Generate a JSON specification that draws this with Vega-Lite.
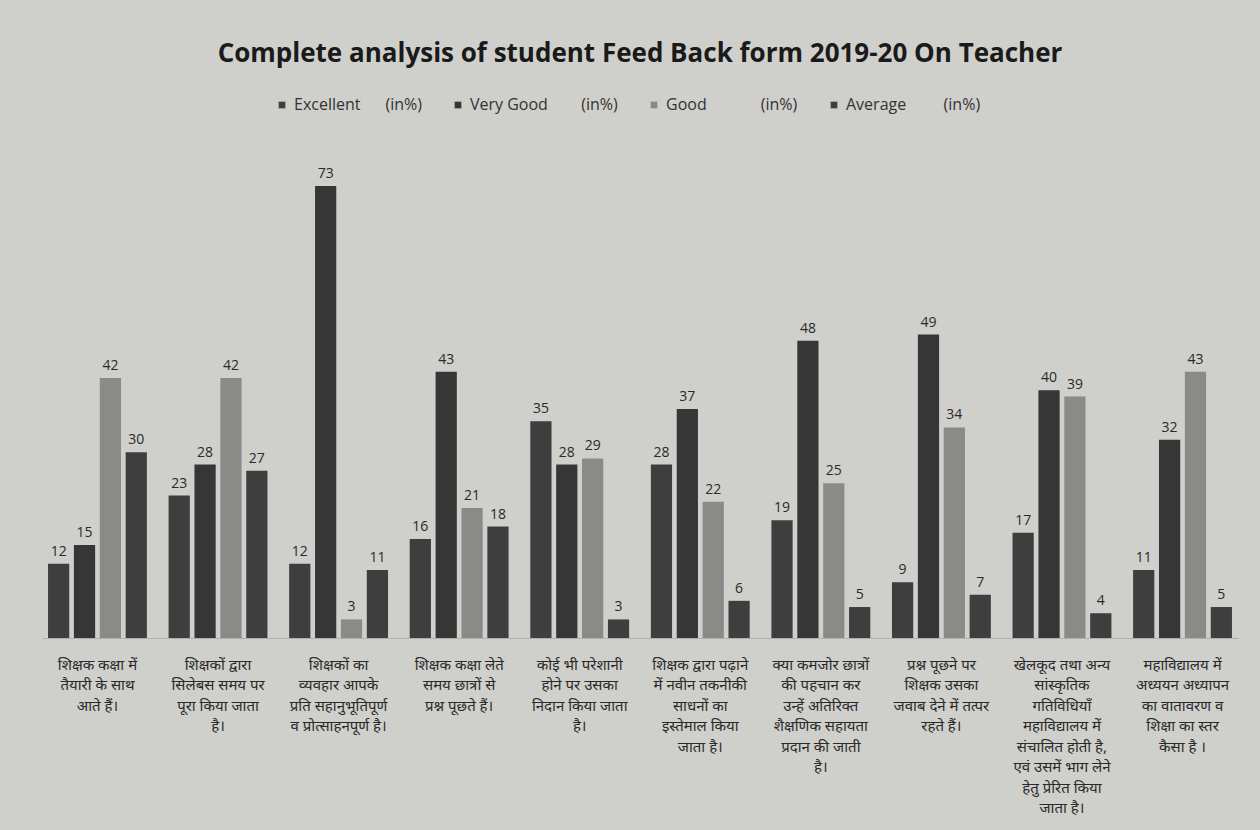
{
  "$schema": "https://vega.github.io/schema/vega-lite/v6.json",
  "width": 1260,
  "height": 830,
  "autosize": {"type": "fit", "contains": "padding"},
  "padding": {"left": 42, "right": 22, "top": 41, "bottom": 14},
  "background": "#cfcfcb",
  "title": {
    "text": "Complete analysis of student Feed Back form 2019-20 On Teacher",
    "font": "Open Sans",
    "fontSize": 26,
    "fontWeight": "bold",
    "color": "#1a1a1a",
    "anchor": "middle",
    "offset": 88
  },
  "config": {
    "view": {"stroke": null},
    "font": "Noto Sans",
    "legend": {"orient": "none", "legendX": 232, "legendY": -58, "direction": "horizontal", "title": null, "labelFontSize": 16, "labelColor": "#333", "symbolType": "square", "symbolSize": 45, "columnPadding": 28, "labelLimit": 300, "labelFont": "Open Sans"}
  },
  "data": {
    "values": [
      {"q": 1, "o": 1, "v": 12}, {"q": 1, "o": 2, "v": 15}, {"q": 1, "o": 3, "v": 42}, {"q": 1, "o": 4, "v": 30},
      {"q": 2, "o": 1, "v": 23}, {"q": 2, "o": 2, "v": 28}, {"q": 2, "o": 3, "v": 42}, {"q": 2, "o": 4, "v": 27},
      {"q": 3, "o": 1, "v": 12}, {"q": 3, "o": 2, "v": 73}, {"q": 3, "o": 3, "v": 3}, {"q": 3, "o": 4, "v": 11},
      {"q": 4, "o": 1, "v": 16}, {"q": 4, "o": 2, "v": 43}, {"q": 4, "o": 3, "v": 21}, {"q": 4, "o": 4, "v": 18},
      {"q": 5, "o": 1, "v": 35}, {"q": 5, "o": 2, "v": 28}, {"q": 5, "o": 3, "v": 29}, {"q": 5, "o": 4, "v": 3},
      {"q": 6, "o": 1, "v": 28}, {"q": 6, "o": 2, "v": 37}, {"q": 6, "o": 3, "v": 22}, {"q": 6, "o": 4, "v": 6},
      {"q": 7, "o": 1, "v": 19}, {"q": 7, "o": 2, "v": 48}, {"q": 7, "o": 3, "v": 25}, {"q": 7, "o": 4, "v": 5},
      {"q": 8, "o": 1, "v": 9}, {"q": 8, "o": 2, "v": 49}, {"q": 8, "o": 3, "v": 34}, {"q": 8, "o": 4, "v": 7},
      {"q": 9, "o": 1, "v": 17}, {"q": 9, "o": 2, "v": 40}, {"q": 9, "o": 3, "v": 39}, {"q": 9, "o": 4, "v": 4},
      {"q": 10, "o": 1, "v": 11}, {"q": 10, "o": 2, "v": 32}, {"q": 10, "o": 3, "v": 43}, {"q": 10, "o": 4, "v": 5}
    ]
  },
  "encoding": {
    "x": {
      "field": "q",
      "type": "ordinal",
      "scale": {"paddingInner": 0.18, "paddingOuter": 0.05},
      "axis": {
        "title": null,
        "labelAngle": 0,
        "ticks": false,
        "domainColor": "#b0b0ac",
        "labelFontSize": 15,
        "labelColor": "#2a2a2a",
        "labelLineHeight": 20.5,
        "labelPadding": 19,
        "labelLimit": 140,
        "labelOverlap": false,
        "labelBound": false,
        "labelExpr": "datum.value == 1 ? ['शिक्षक कक्षा में', 'तैयारी के साथ', 'आते हैं।'] : datum.value == 2 ? ['शिक्षकों द्वारा', 'सिलेबस समय पर', 'पूरा किया जाता', 'है।'] : datum.value == 3 ? ['शिक्षकों का', 'व्यवहार आपके', 'प्रति सहानुभूतिपूर्ण', 'व प्रोत्साहनपूर्ण है।'] : datum.value == 4 ? ['शिक्षक कक्षा लेते', 'समय छात्रों से', 'प्रश्न पूछते हैं।'] : datum.value == 5 ? ['कोई भी परेशानी', 'होने पर उसका', 'निदान किया जाता', 'है।'] : datum.value == 6 ? ['शिक्षक द्वारा पढ़ाने', 'में नवीन तकनीकी', 'साधनों का', 'इस्तेमाल किया', 'जाता है।'] : datum.value == 7 ? ['क्या कमजोर छात्रों', 'की पहचान कर', 'उन्हें अतिरिक्त', 'शैक्षणिक सहायता', 'प्रदान की जाती', 'है।'] : datum.value == 8 ? ['प्रश्न पूछने पर', 'शिक्षक उसका', 'जवाब देने में तत्पर', 'रहते हैं।'] : datum.value == 9 ? ['खेलकूद तथा अन्य', 'सांस्कृतिक', 'गतिविधियाँ', 'महाविद्यालय में', 'संचालित होती है,', 'एवं उसमें भाग लेने', 'हेतु प्रेरित किया', 'जाता है।'] : ['महाविद्यालय में', 'अध्ययन अध्यापन', 'का वातावरण व', 'शिक्षा का स्तर', 'कैसा है ।']"
      }
    },
    "xOffset": {"field": "o", "type": "ordinal", "scale": {"paddingInner": 0.18}},
    "y": {"field": "v", "type": "quantitative", "scale": {"domain": [0, 78], "nice": false}, "axis": null}
  },
  "layer": [
    {
      "mark": {"type": "bar"},
      "encoding": {
        "color": {
          "field": "o",
          "type": "nominal",
          "scale": {"domain": [1, 2, 3, 4], "range": ["#3e3e3e", "#363636", "#8a8a88", "#3e3e3e"]},
          "legend": {
            "labelExpr": "datum.value == 1 ? 'Excellent\u00a0\u00a0\u00a0\u00a0\u00a0\u00a0(in%)' : datum.value == 2 ? 'Very Good\u00a0\u00a0\u00a0\u00a0\u00a0\u00a0\u00a0\u00a0(in%)' : datum.value == 3 ? 'Good\u00a0\u00a0\u00a0\u00a0\u00a0\u00a0\u00a0\u00a0\u00a0\u00a0\u00a0\u00a0\u00a0(in%)' : 'Average\u00a0\u00a0\u00a0\u00a0\u00a0\u00a0\u00a0\u00a0\u00a0(in%)'"
          }
        }
      }
    },
    {
      "mark": {"type": "text", "dy": -12, "fontSize": 14, "color": "#2a2a2a", "font": "Open Sans"},
      "encoding": {"text": {"field": "v", "type": "quantitative"}}
    }
  ]
}
